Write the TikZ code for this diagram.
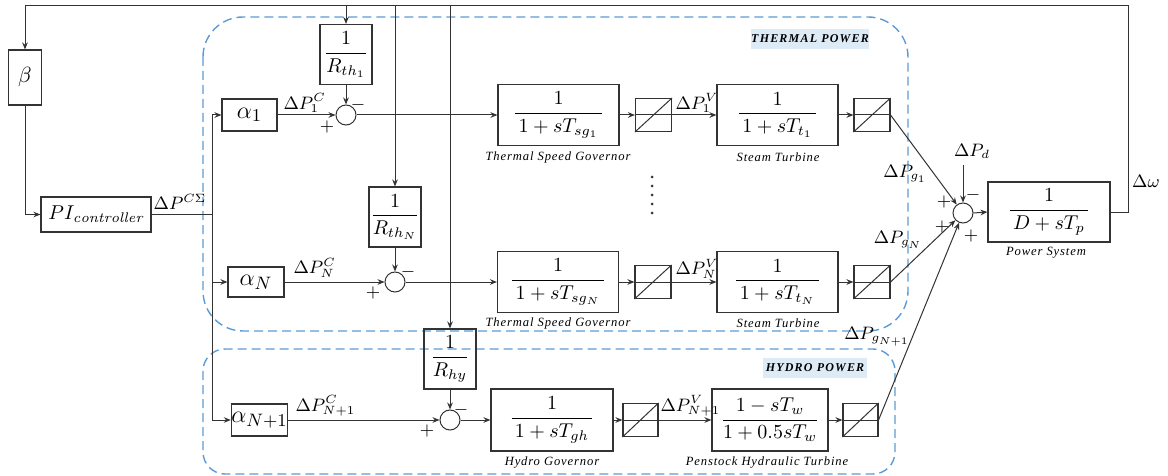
\documentclass[tikz,border=0pt]{standalone}
\usepackage{amsmath}
\usepackage{fontspec}
\newfontfamily\capfont[LetterSpace=7]{Liberation Serif}
\newfontfamily\tagfont[LetterSpace=10]{Liberation Serif}
\usetikzlibrary{arrows.meta,calc}
\definecolor{dashblue}{HTML}{5B9BD5}
\definecolor{tagbg}{HTML}{DDEBF7}
\definecolor{ln}{HTML}{333333}
\begin{document}
\begin{tikzpicture}[x=0.5pt,y=-0.5pt,
  >={Stealth[length=3.5pt,width=2.8pt]},
  line width=0.5pt, draw=ln,
  blk/.style={draw=ln, line width=0.55pt, inner sep=0pt, font=\fontsize{10}{12}\selectfont},
  gov/.style={blk, minimum width=60.5pt, minimum height=30.5pt},
  lim/.style={blk, minimum width=18pt, minimum height=16.5pt},
  rbox/.style={blk, minimum width=26pt, minimum height=30pt},
  abox/.style={blk, minimum width=27.5pt, minimum height=16pt, font=\fontsize{13}{15}\selectfont},
  sumc/.style={circle, draw=ln, line width=0.5pt, minimum size=10pt, inner sep=0pt},
  captxt/.style={font=\capfont\itshape\fontsize{6.3}{7}\selectfont, inner sep=0pt},
  sig/.style={font=\fontsize{9}{10}\selectfont, inner sep=0pt},
  lbl/.style={font=\fontsize{8.8}{10}\selectfont, inner sep=0pt},
  region/.style={draw=dashblue, line width=0.7pt, dash pattern=on 4.5pt off 2.5pt},
  tag/.style={fill=tagbg, font=\tagfont\bfseries\itshape\fontsize{6}{7}\selectfont, inner sep=0pt, minimum height=10pt}
]
\useasboundingbox (0,0) rectangle (1168,476);

% regions
\draw[region, rounded corners=20pt] (203,17) rectangle (908,331);
\draw[region, rounded corners=11pt] (203,349) rectangle (895,474);
\node[tag, minimum width=56pt] (tagT) at (810,39) {THERMAL POWER};
\node[tag, minimum width=52pt] (tagH) at (815,368) {HYDRO POWER};

% left
\node[blk, minimum width=16.5pt, minimum height=27.5pt, font=\fontsize{11}{13}\selectfont] (beta) at (25,77.5) {$\beta$};
\node[blk, minimum width=55pt, minimum height=17.5pt] (PI) at (96,214.5) {$PI_{\mathit{controller}}$};
\node[lbl] (lpc) at (180,202) {$\Delta P^{C\Sigma}$};

% row 1
\node[abox] (a1) at (249.5,115) {$\alpha_1$};
\node[rbox] (R1) at (346,54.5) {$\dfrac{1}{R_{th_1}}$};
\node[sumc] (s1) at (346,115) {};
\node[gov] (G1) at (558.5,115) {$\dfrac{1}{\,1+sT_{sg_1}\,}$};
\node[lim] (L1) at (653.5,115) {};
\node[gov] (T1) at (777.5,115) {$\dfrac{1}{\,1+sT_{t_1}\,}$};
\node[lim] (L1b) at (872,115) {};
\node[captxt] (c1) at (558,157) {Thermal Speed Governor};
\node[captxt] (c2) at (778,157) {Steam Turbine};

% row N
\node[abox, minimum width=28pt, minimum height=15pt] (aN) at (256,282) {$\alpha_N$};
\node[rbox] (RN) at (395,217) {$\dfrac{1}{R_{th_N}}$};
\node[sumc] (sN) at (395,282) {};
\node[gov] (GN) at (558,282) {$\dfrac{1}{\,1+sT_{sg_N}\,}$};
\node[lim] (LN) at (653,282) {};
\node[gov] (TN) at (777.5,282) {$\dfrac{1}{\,1+sT_{t_N}\,}$};
\node[lim] (LNb) at (872,282) {};
\node[captxt] (c3) at (558,323) {Thermal Speed Governor};
\node[captxt] (c4) at (778,323) {Steam Turbine};

% row hydro
\node[abox] (aH) at (259.5,420) {$\alpha_{N+1}$};
\node[rbox] (RH) at (450,359) {$\dfrac{1}{R_{hy}}$};
\node[sumc] (sH) at (450,420) {};
\node[gov, minimum width=61pt, minimum height=31pt] (GH) at (552,420) {$\dfrac{1}{\,1+sT_{gh}\,}$};
\node[lim, minimum width=17.5pt] (LH) at (640.5,420) {};
\node[gov, minimum width=58pt, minimum height=31pt] (TH) at (770,420) {$\dfrac{1-sT_w}{1+0.5sT_w}$};
\node[lim, minimum width=17.5pt] (LHb) at (860.5,420) {};
\node[captxt] (c5) at (552,462) {Hydro Governor};
\node[captxt] (c6) at (767,462) {Penstock Hydraulic Turbine};

% dots
\foreach \yy in {177,186,195,204,213} \fill[ln] (652,\yy) circle (0.75pt);

% right
\node[sumc] (sum) at (963,213) {};
\node[gov, minimum width=61pt, minimum height=30pt] (PS) at (1049,212) {$\dfrac{1}{\,D+sT_p\,}$};
\node[captxt] (c7) at (1046,253) {Power System};
\coordinate (pd) at (963,165);
\node[lbl] (lpd) at (972,151) {$\Delta P_d$};
\node[lbl] (lw) at (1146,181) {$\Delta\omega$};

% feedback
\coordinate (fbR) at (1128,5.5);
\draw (PS.east) -| (fbR);
\draw[->] (fbR) -| (beta.north);
\draw[->] (R1.north |- fbR) -- (R1.north);
\draw[->] (RN.north |- fbR) -- (RN.north);
\draw[->] (RH.north |- fbR) -- (RH.north);
\draw[->] (beta.south) |- (PI.west);

% bus
\coordinate (bt) at (212,115);
\coordinate (bb) at (212,420);
\draw (PI.east) -- (PI.east -| bt);
\draw (bt) -- (bb);
\draw[->] (bt) -- (a1.west);
\draw[->] (aN.west -| bt) -- (aN.west);
\draw[->] (bb) -- (aH.west);

% row connectors
\foreach \a/\r/\s/\g/\l/\t/\lb in {a1/R1/s1/G1/L1/T1/L1b, aN/RN/sN/GN/LN/TN/LNb, aH/RH/sH/GH/LH/TH/LHb}{
  \draw[->] (\a.east) -- (\s.west);
  \draw[->] (\r.south) -- (\s.north);
  \draw[->] (\s.east) -- (\g.west);
  \draw[->] (\g.east) -- (\l.west);
  \draw (\l.west) -- (\l.east);
  \draw (\l.south west) -- (\l.north east);
  \draw[->] (\l.east) -- (\t.west);
  \draw[->] (\t.east) -- (\lb.west);
  \draw (\lb.west) -- (\lb.east);
  \draw (\lb.south west) -- (\lb.north east);
  \draw[->] (\lb.east) -- (sum);
}
\draw[->] (pd) -- (sum.north);
\draw[->] (sum.east) -- (PS.west);

% signs
\node[sig] at (327,127) {$+$};
\node[sig] at (358,105) {$-$};
\node[sig] at (373,293) {$+$};
\node[sig] at (408,272) {$-$};
\node[sig] at (427,431) {$+$};
\node[sig] at (461,410) {$-$};
\node[sig] at (944,202) {$+$};
\node[sig] at (942,227) {$+$};
\node[sig] at (971,236) {$+$};
\node[sig] at (973,195) {$-$};

% labels
\node[lbl, anchor=south west] at (283,113) {$\Delta P_1^C$};
\node[lbl, anchor=south west] at (293,278) {$\Delta P_N^C$};
\node[lbl, anchor=south west] at (295,417) {$\Delta P_{N+1}^C$};
\node[lbl, anchor=south west] at (675,113) {$\Delta P_1^V$};
\node[lbl, anchor=south west] at (675,279) {$\Delta P_N^V$};
\node[lbl, anchor=south west] at (660,417) {$\Delta P_{N+1}^V$};
\node[lbl] at (905,174) {$\Delta P_{g_1}$};
\node[lbl] at (898,240) {$\Delta P_{g_N}$};
\node[lbl] at (877,337) {$\Delta P_{g_{N+1}}$};
\end{tikzpicture}
\end{document}
